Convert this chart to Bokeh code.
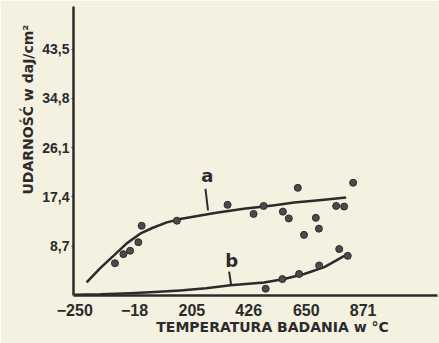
from bokeh.plotting import figure
from bokeh.models import FixedTicker, Range1d, Label
from bokeh.embed import file_html
from bokeh.resources import INLINE

# tick positions / labels
x_ticks = [-250, -18, 205, 426, 650, 871]
y_ticks = [8.7, 17.4, 26.1, 34.8, 43.5]
y_tick_labels = ["8,7", "17,4", "26,1", "34,8", "43,5"]
x_title = "TEMPERATURA BADANIA w °C"
y_title = "UDARNOŚĆ w daJ/cm²"

# curve a (fitted line)
curve_a_x = [-204, -152, -100, -48, 4, 56, 108, 160, 238, 300, 407, 520, 603, 700, 805]
curve_a_y = [2.3, 4.8, 7.0, 9.2, 10.9, 12.0, 12.9, 13.5, 14.1, 14.6, 15.3, 15.9, 16.4, 16.8, 17.3]

# curve b (fitted line)
curve_b_x = [-250, -150, -35, 60, 160, 260, 355, 486, 564, 642, 720, 798]
curve_b_y = [0.15, 0.2, 0.4, 0.6, 0.9, 1.3, 1.8, 2.3, 2.9, 3.8, 5.0, 7.0]

# measured points a
pts_a_x = [-94, -61, -35, -3, 10, 147, 344, 445, 484, 559, 582, 617, 641, 687, 699, 766, 797, 832]
pts_a_y = [5.7, 7.3, 7.9, 9.4, 12.3, 13.2, 16.0, 14.4, 15.8, 14.8, 13.6, 19.0, 10.7, 13.7, 11.8, 15.8, 15.7, 19.9]

# measured points b
pts_b_x = [492, 557, 622, 700, 778, 811]
pts_b_y = [1.2, 2.9, 3.8, 5.3, 8.2, 7.0]

BG = "#f4f1e1"
INK = "#2b2b2b"
FONT = "Liberation Sans"
LFONT = "DejaVu Sans"
NB = "\u00a0"

p = figure(width=439, height=343, output_backend="svg", toolbar_location=None,
           x_range=Range1d(-255, 1160), y_range=Range1d(0, 51),
           min_border_left=73, min_border_bottom=48, min_border_top=6, min_border_right=2)
p.background_fill_color = BG
p.border_fill_color = BG
p.outline_line_color = None
p.grid.visible = False

p.xaxis.ticker = FixedTicker(ticks=x_ticks)
p.yaxis.ticker = FixedTicker(ticks=y_ticks)
p.yaxis.major_label_overrides = {t: l for t, l in zip(y_ticks, y_tick_labels)}
for ax in (p.xaxis, p.yaxis):
    ax.axis_line_color = INK
    ax.axis_line_width = 2.5
    ax.minor_tick_line_color = None
    ax.major_label_text_font = FONT
    ax.major_label_text_font_style = "bold"
    ax.major_label_text_color = INK
    ax.axis_label_text_font = LFONT
    ax.axis_label_text_font_style = "bold"
    ax.axis_label_text_color = INK
    ax.axis_label_text_font_size = "14px"
p.xaxis.major_tick_line_color = None
p.yaxis.major_tick_line_color = INK
p.yaxis.major_tick_in = 0
p.yaxis.major_tick_out = 2
p.xaxis.major_label_text_font_size = "16px"
p.yaxis.major_label_text_font_size = "14px"
p.xaxis.major_label_standoff = 2
p.yaxis.major_label_standoff = 2
# non-breaking padding shifts the centred titles to where the original has them
p.xaxis.axis_label = NB * 7 + x_title
p.yaxis.axis_label = NB * 17 + y_title
p.xaxis.axis_label_standoff = 0
p.yaxis.axis_label_standoff = 3

p.line(curve_a_x, curve_a_y, line_color=INK, line_width=2.5, line_join="round")
p.line(curve_b_x, curve_b_y, line_color=INK, line_width=2.5, line_join="round")
p.scatter(pts_a_x, pts_a_y, size=7, fill_color="#4a4a4a", line_color=INK, line_width=1)
p.scatter(pts_b_x, pts_b_y, size=7, fill_color="#4a4a4a", line_color=INK, line_width=1)

# labels a and b with pointer strokes
p.add_layout(Label(x=242, y=19.3, text="a", text_font=LFONT, text_font_style="bold",
                   text_font_size="18px", text_color=INK))
p.segment(x0=[258, 350], y0=[18.8, 4.2], x1=[268, 358], y1=[15.0, 1.8], line_color=INK, line_width=2)
p.add_layout(Label(x=335, y=4.4, text="b", text_font=LFONT, text_font_style="bold",
                   text_font_size="18px", text_color=INK))

open("out.html", "w").write(file_html(p, INLINE))
